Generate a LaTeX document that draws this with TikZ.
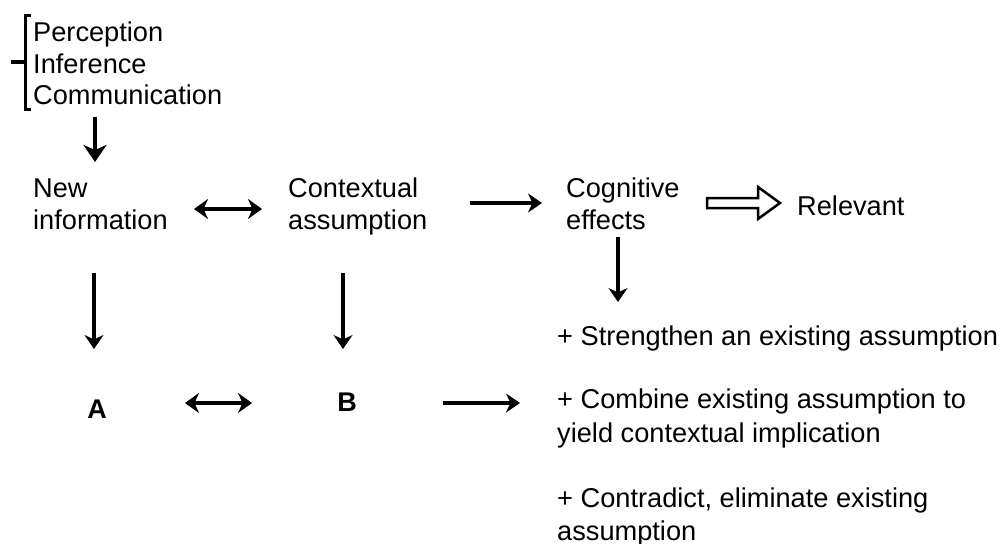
\documentclass[tikz,border=0pt]{standalone}
\usepackage{fontspec}
\setmainfont{Liberation Sans}
\usetikzlibrary{arrows.meta}
\begin{document}
\begin{tikzpicture}[x=1pt,y=-1pt,
  txt/.style={anchor=base west,inner sep=0pt,font=\fontsize{27.2}{32}\selectfont},
  bold/.style={anchor=base,inner sep=0pt,font=\fontsize{27}{32}\selectfont\bfseries},
  conn/.style={line width=3.5pt,-{Stealth[length=14pt,width=19pt,inset=4.5pt]}},
  dconn/.style={line width=3.5pt,{Stealth[length=14pt,width=20pt,inset=4.5pt]}-{Stealth[length=14pt,width=20pt,inset=4.5pt]}},
  brk/.style={line width=3pt}]
\useasboundingbox (0,0) rectangle (1005,544);
% top list
\node[txt] (perc) at (33,41) {Perception};
\node[txt] (inf) at (33,73) {Inference};
\node[txt] (comm) at (33,104) {Communication};
\draw[brk] (31,15) -- (25.5,15) -- (25.5,109) -- (31,109);
\draw[line width=4.5pt] (11,62) -- (25.5,62);
% row 1
\node[txt] (new1) at (33,197) {New};
\node[txt] (new2) at (33,229) {information};
\node[txt] (ctx1) at (288,197) {Contextual};
\node[txt] (ctx2) at (288,229) {assumption};
\node[txt] (cog1) at (566,197) {Cognitive};
\node[txt] (cog2) at (566,229) {effects};
\node[txt] (rel) at (797,215) {Relevant};
% row 2
\node[bold] (A) at (97,418) {A};
\node[bold] (B) at (347,411) {B};
% effects list
\node[txt] (e1) at (557,345) {+ Strengthen an existing assumption};
\node[txt] (e2a) at (557,408) {+ Combine existing assumption to};
\node[txt] (e2b) at (557,442) {yield contextual implication};
\node[txt] (e3a) at (557,507) {+ Contradict, eliminate existing};
\node[txt] (e3b) at (557,540) {assumption};
% connector end points
\coordinate (t0) at (95,117);
\coordinate (t1) at (95,162);
\coordinate (d1a) at (194,209);
\coordinate (d1b) at (262,209);
\coordinate (r1a) at (470,203);
\coordinate (r1b) at (542,203);
\coordinate (c0) at (618,237);
\coordinate (c1) at (618,302);
\coordinate (n0) at (94,273);
\coordinate (n1) at (94,349);
\coordinate (k0) at (343,273);
\coordinate (k1) at (343,349);
\coordinate (d2a) at (185,403);
\coordinate (d2b) at (252,403);
\coordinate (r2a) at (443,403);
\coordinate (r2b) at (520,403);
\coordinate (h0) at (707,203);
\coordinate (h1) at (780,203);
% connectors
\draw[line width=3.5pt,-{Stealth[length=17pt,width=23pt,inset=5pt]}] (t0) -- (t1);
\draw[dconn] (d1a) -- (d1b);
\draw[conn] (r1a) -- (r1b);
\draw[conn] (c0) -- (c1);
\draw[conn] (n0) -- (n1);
\draw[conn] (k0) -- (k1);
\draw[dconn] (d2a) -- (d2b);
\draw[conn] (r2a) -- (r2b);
% hollow arrow
\draw[line width=2.5pt,line join=miter,fill=white]
  (h0) ++(0,-5) -- ++(51,0) -- ++(0,-11) -- (h1) -- ++(-22,16) -- ++(0,-11) -- ++(-51,0) -- cycle;
\end{tikzpicture}
\end{document}
